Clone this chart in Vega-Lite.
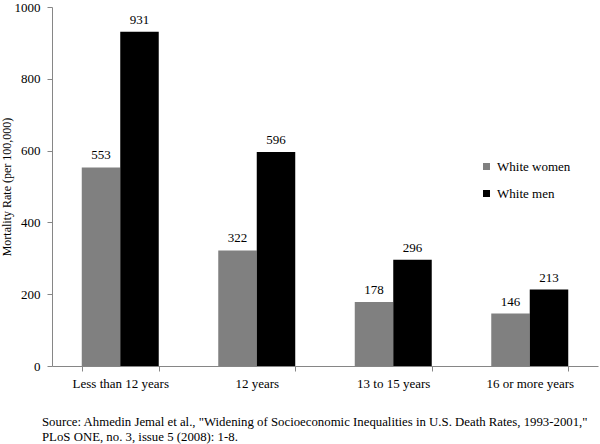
{
  "$schema": "https://vega.github.io/schema/vega-lite/v6.json",
  "width": 546,
  "height": 359,
  "autosize": {"type": "none"},
  "padding": {"left": 52, "top": 7, "right": 2, "bottom": 78},
  "config": {"font": "serif", "view": {"stroke": null}},
  "title": {
    "text": ["Source: Ahmedin Jemal et al., \"Widening of Socioeconomic Inequalities in U.S. Death Rates, 1993-2001,\"", "PLoS ONE, no. 3, issue 5 (2008): 1-8."],
    "orient": "bottom",
    "anchor": "start",
    "frame": "group",
    "font": "serif",
    "fontSize": 12.8,
    "fontWeight": "normal",
    "lineHeight": 15,
    "dx": -10,
    "offset": 26,
    "color": "black"
  },
  "data": {
    "values": [
      {"edu": "Less than 12 years", "sex": "White women", "rate": 553},
      {"edu": "Less than 12 years", "sex": "White men", "rate": 931},
      {"edu": "12 years", "sex": "White women", "rate": 322},
      {"edu": "12 years", "sex": "White men", "rate": 596},
      {"edu": "13 to 15 years", "sex": "White women", "rate": 178},
      {"edu": "13 to 15 years", "sex": "White men", "rate": 296},
      {"edu": "16 or more years", "sex": "White women", "rate": 146},
      {"edu": "16 or more years", "sex": "White men", "rate": 213}
    ]
  },
  "encoding": {
    "x": {
      "field": "edu",
      "type": "nominal",
      "sort": ["Less than 12 years", "12 years", "13 to 15 years", "16 or more years"],
      "scale": {"paddingInner": 0.436, "paddingOuter": 0.218},
      "axis": {
        "title": null,
        "labelAngle": 0,
        "tickBand": "extent",
        "tickSize": 5,
        "tickColor": "#868686",
        "domainColor": "#868686",
        "labelFont": "serif",
        "labelFontSize": 13,
        "labelColor": "black",
        "labelPadding": 6
      }
    },
    "xOffset": {"field": "sex", "type": "nominal", "sort": ["White women", "White men"]},
    "y": {
      "field": "rate",
      "type": "quantitative",
      "scale": {"domain": [0, 1000]},
      "axis": {
        "values": [0, 200, 400, 600, 800, 1000],
        "format": "d",
        "grid": false,
        "tickSize": 5,
        "tickColor": "#868686",
        "domainColor": "#868686",
        "labelFont": "serif",
        "labelFontSize": 13,
        "labelColor": "black",
        "labelPadding": 7,
        "title": "Mortality Rate (per 100,000)",
        "titleFont": "serif",
        "titleFontSize": 12,
        "titleFontWeight": "normal",
        "titleColor": "black",
        "titlePadding": 1
      }
    }
  },
  "layer": [
    {
      "mark": {"type": "bar"},
      "encoding": {
        "color": {
          "field": "sex",
          "type": "nominal",
          "sort": ["White women", "White men"],
          "scale": {"domain": ["White women", "White men"], "range": ["#808080", "#000000"]},
          "legend": {
            "title": null,
            "orient": "none",
            "legendX": 428,
            "legendY": 153,
            "symbolType": "square",
            "symbolSize": 49,
            "symbolStrokeWidth": 0,
            "labelFont": "serif",
            "labelFontSize": 13,
            "labelColor": "black",
            "rowPadding": 13,
            "labelOffset": 4
          }
        }
      }
    },
    {
      "mark": {"type": "text", "baseline": "bottom", "dy": -5, "fontSize": 13, "color": "black", "font": "serif"},
      "encoding": {"text": {"field": "rate", "type": "quantitative"}}
    }
  ]
}
